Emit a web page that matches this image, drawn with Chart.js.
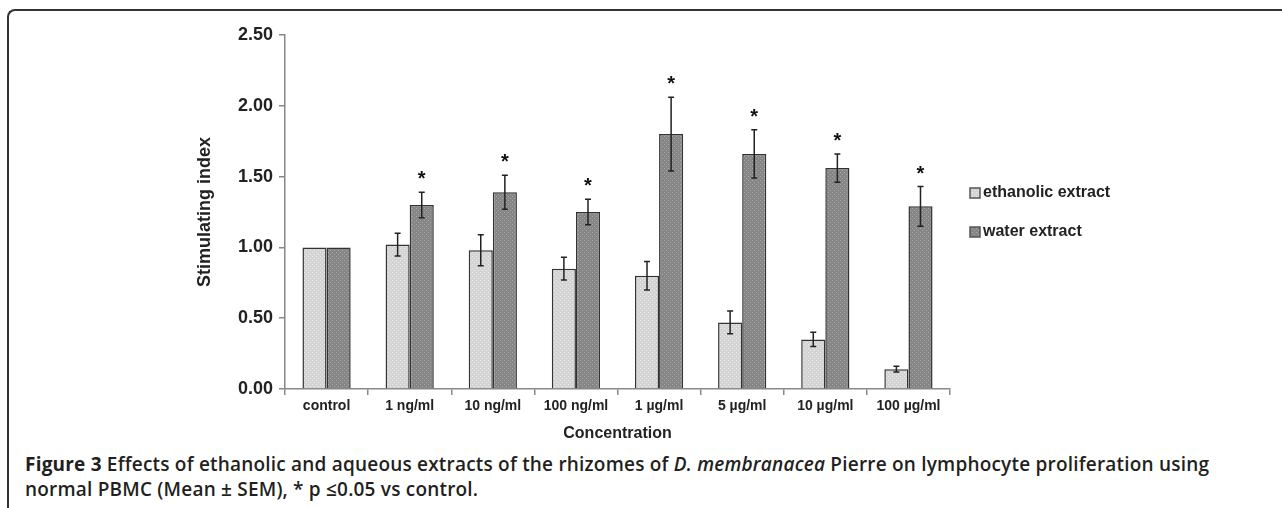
<!DOCTYPE html>
<html>
<head>
<meta charset="utf-8">
<script src="https://cdn.jsdelivr.net/npm/chart.js@4"></script>
<style>
  body { margin: 0; background: #fff; overflow: hidden; }
  #frame { position: absolute; left: 7px; top: 9px; width: 1300px; height: 520px;
           border-left: 2px solid #333; border-top: 2px solid #333; border-top-left-radius: 8px; }
  #wrap { position: absolute; left: 0; top: 0; width: 1282px; height: 450px; }
  #caption { position: absolute; left: 25px; top: 452px; width: 1250px;
             font-family: "Open Sans", sans-serif; font-weight: 600; letter-spacing: 0.2px;
             font-size: 19px; line-height: 25px; color: #231f20; white-space: nowrap; }
  #caption b { font-weight: 700; }
</style>
</head>
<body>
<div id="frame"></div>
<div id="wrap"><canvas id="myChart" width="1282" height="450"></canvas></div>
<div id="caption"><b>Figure 3</b> Effects of ethanolic and aqueous extracts of the rhizomes of <i>D. membranacea</i> Pierre on lymphocyte proliferation using<br>normal PBMC (Mean ± SEM), * p ≤0.05 vs control.</div>
<script>
var categories = ['control', '1 ng/ml', '10 ng/ml', '100 ng/ml', '1 µg/ml', '5 µg/ml', '10 µg/ml', '100 µg/ml'];
var ethanolic = [1.00, 1.02, 0.98, 0.85, 0.80, 0.47, 0.35, 0.14];
var ethanolicErr = [0, 0.08, 0.11, 0.08, 0.10, 0.08, 0.05, 0.02];
var water = [1.00, 1.30, 1.39, 1.25, 1.80, 1.66, 1.56, 1.29];
var waterErr = [0, 0.09, 0.12, 0.09, 0.26, 0.17, 0.10, 0.14];
var significant = [false, true, true, true, true, true, true, true];
var yTicks = [0, 0.5, 1.0, 1.5, 2.0, 2.5];

var FONT = '"Liberation Sans", Arial, sans-serif';

function makePattern(ctx, base, dot) {
    var c = document.createElement('canvas');
    c.width = 4; c.height = 4;
    var g = c.getContext('2d');
    g.fillStyle = base;
    g.fillRect(0, 0, 4, 4);
    g.fillStyle = dot;
    g.fillRect(0, 0, 1, 1);
    g.fillRect(2, 2, 1, 1);
    return ctx.createPattern(c, 'repeat');
}

// error bars + asterisks
var errorBars = {
    id: 'errorBars',
    afterDatasetsDraw: function(chart) {
        var ctx = chart.ctx;
        var y = chart.scales.y;
        var errs = [ethanolicErr, waterErr];
        ctx.save();
        ctx.strokeStyle = '#222';
        ctx.lineWidth = 1.5;
        chart.data.datasets.forEach(function(ds, i) {
            var meta = chart.getDatasetMeta(i);
            meta.data.forEach(function(bar, j) {
                var e = errs[i][j];
                if (!e) return;
                var v = ds.data[j];
                var top = y.getPixelForValue(v + e), bot = y.getPixelForValue(v - e);
                ctx.beginPath();
                ctx.moveTo(bar.x, top); ctx.lineTo(bar.x, bot);
                ctx.moveTo(bar.x - 3, top); ctx.lineTo(bar.x + 3, top);
                ctx.moveTo(bar.x - 3, bot); ctx.lineTo(bar.x + 3, bot);
                ctx.stroke();
                if (i == 1 && significant[j]) {
                    ctx.fillStyle = '#111';
                    ctx.font = 'bold 20px ' + FONT;
                    ctx.textAlign = 'center';
                    ctx.textBaseline = 'alphabetic';
                    ctx.fillText('*', bar.x, top - 7);
                }
            });
        });
        ctx.restore();
    }
};

// legend drawn at the right side
var sideLegend = {
    id: 'sideLegend',
    afterDraw: function(chart) {
        var ctx = chart.ctx;
        var rows = [193, 232];
        ctx.save();
        chart.data.datasets.forEach(function(ds, i) {
            var yy = rows[i];
            ctx.fillStyle = ds.backgroundColor;
            ctx.fillRect(970, yy - 5, 10, 10);
            ctx.strokeStyle = '#555';
            ctx.lineWidth = 1.5;
            ctx.strokeRect(970, yy - 5, 10, 10);
            ctx.fillStyle = '#222';
            ctx.font = 'bold 16px ' + FONT;
            ctx.textAlign = 'left';
            ctx.textBaseline = 'middle';
            ctx.fillText(ds.label, 983, yy);
        });
        ctx.restore();
    }
};

var ctx = document.getElementById('myChart').getContext('2d');
var chart = new Chart(ctx, {
    type: 'bar',
    data: {
        labels: categories,
        datasets: [{
            label: 'ethanolic extract',
            data: ethanolic,
            backgroundColor: makePattern(ctx, '#d4d4d4', '#ebebeb'),
            borderColor: '#333',
            borderWidth: 1.5
        }, {
            label: 'water extract',
            data: water,
            backgroundColor: makePattern(ctx, '#868686', '#a8a8a8'),
            borderColor: '#333',
            borderWidth: 1.5
        }]
    },
    options: {
        responsive: false,
        animation: false,
        layout: { padding: { left: 190, right: 332, top: 35, bottom: 3 } },
        plugins: { legend: { display: false }, tooltip: { enabled: false } },
        datasets: { bar: { categoryPercentage: 0.58, barPercentage: 1.0 } },
        scales: {
            x: {
                grid: { display: true, drawOnChartArea: false, tickLength: 6, color: '#888', lineWidth: 1.5 },
                border: { color: '#888', width: 1.5 },
                ticks: { color: '#222', font: { family: FONT, size: 14, weight: 'bold' }, padding: 3, maxRotation: 0 },
                title: { display: true, text: 'Concentration', color: '#222', font: { family: FONT, size: 16, weight: 'bold' } },
                afterFit: function(s) { s.height = 58; }
            },
            y: {
                min: 0, max: 2.5,
                afterBuildTicks: function(s) { s.ticks = yTicks.map(function(v) { return { value: v }; }); },
                grid: { display: true, drawOnChartArea: false, tickLength: 6, color: '#888', lineWidth: 1.5 },
                border: { color: '#888', width: 1.5 },
                ticks: { color: '#222', font: { family: FONT, size: 18, weight: 'bold' }, padding: 6,
                         callback: function(v) { return Number(v).toFixed(2); } },
                title: { display: true, text: 'Stimulating index', color: '#222', font: { family: FONT, size: 18, weight: 'bold' } },
                afterFit: function(s) { s.width = 95; }
            }
        }
    },
    plugins: [errorBars, sideLegend]
});
</script>
</body>
</html>
